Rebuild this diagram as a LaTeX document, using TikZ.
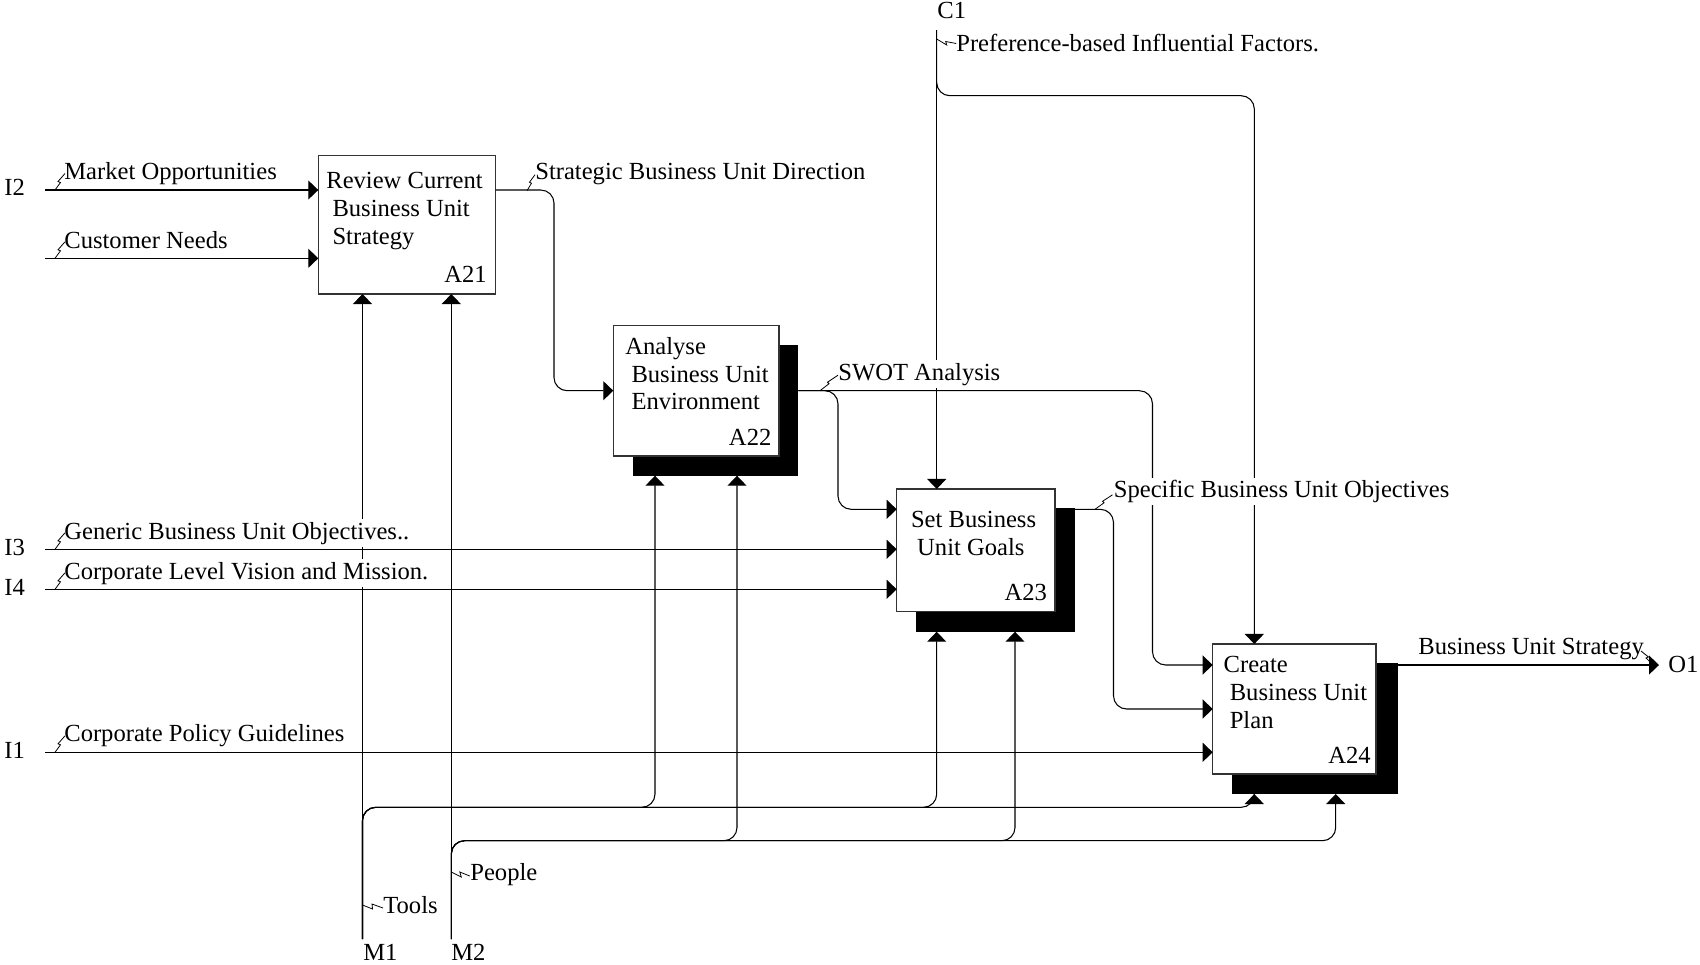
\documentclass[tikz,border=0pt]{standalone}
\usepackage{fontspec}
\setmainfont{Liberation Serif}
\usetikzlibrary{arrows.meta,fit}

\begin{document}
\begin{tikzpicture}[x=0.02cm,y=-0.02cm,
  every node/.style={font=\fontsize{14pt}{15.8pt}\selectfont},
  wire/.style={line width=0.6pt, draw=black},
  arr/.style={wire, -{Triangle[length=5.7pt,width=10.8pt]}},
  rc/.style={rounded corners=7.5pt},
  box/.style={draw=black!80, line width=0.8pt, fill=white, inner sep=0pt, outer sep=0pt},
  shade/.style={fill=black, draw=none, inner sep=0pt, outer sep=0pt},
  lbl/.style={fill=white, inner xsep=0pt, inner ysep=1.5pt, anchor=base west},
  port/.style={inner sep=0pt, anchor=base west},
  boxtext/.style={inner sep=0pt, anchor=base west},
  num/.style={inner sep=0pt, anchor=base east},
  squig/.style={line width=0.45pt}
]
\useasboundingbox (0,0) rectangle (1700,964);

% ---- activity boxes (shadows first) ----
\node[shade, fit={(633.3,345) (798.3,475.7)}]   (A22s) {};
\node[shade, fit={(916,508.3) (1075,631.7)}]    (A23s) {};
\node[shade, fit={(1232.3,663.3) (1397.7,794)}] (A24s) {};
\node[box, fit={(318.3,155.7) (495.7,294)}]  (A21) {};
\node[box, fit={(613.3,325.7) (779,456)}]    (A22) {};
\node[box, fit={(896.7,489) (1055,611.7)}]   (A23) {};
\node[box, fit={(1212.7,644) (1376,774)}]    (A24) {};

% ---- boundary ports and routing points ----
\coordinate (i2)  at (45,190);
\coordinate (i2b) at (45,258.3);
\coordinate (i3)  at (45,549.3);
\coordinate (i4)  at (45,589.3);
\coordinate (i1)  at (45,752.3);
\coordinate (c1)  at (936.7,30);
\coordinate (m1)  at (362.5,939);
\coordinate (m2)  at (451.3,939);
\coordinate (o1)  at (1659,665);
\coordinate (j1)  at (554,390.7);
\coordinate (j2)  at (838,509.3);
\coordinate (j3)  at (1152.5,665);
\coordinate (j4)  at (1113.5,709);
\coordinate (c1b) at (1254.3,95.7);
\coordinate (b1a) at (655,807.3);
\coordinate (b1b) at (936.7,807.3);
\coordinate (b1c) at (1254.3,807.3);
\coordinate (b2a) at (737,840.7);
\coordinate (b2b) at (1015,840.7);
\coordinate (b2c) at (1335.7,840.7);

% ---- inputs ----
\draw[arr] (i2)  -- (i2 -| A21.west);
\draw[arr] (i2b) -- (i2b -| A21.west);
\draw[arr] (i3)  -- (i3 -| A23.west);
\draw[arr] (i4)  -- (i4 -| A23.west);
\draw[arr] (i1)  -- (i1 -| A24.west);

% ---- controls ----
\draw[arr] (c1) -- (c1 |- A23.north);
\draw[arr, rc] (c1) |- (c1b) -- (c1b |- A24.north);

% ---- mechanisms ----
\draw[arr] (m1) -- (m1 |- A21.south);
\draw[arr] (m2) -- (m2 |- A21.south);
\draw[arr, rc] (m1) |- (b1a) -- (b1a |- A22s.south);
\draw[arr, rc] (m1) |- (b1b) -- (b1b |- A23s.south);
\draw[arr, rc] (m1) |- (b1c) -- (b1c |- A24s.south);
\draw[arr, rc] (m2) |- (b2a) -- (b2a |- A22s.south);
\draw[arr, rc] (m2) |- (b2b) -- (b2b |- A23s.south);
\draw[arr, rc] (m2) |- (b2c) -- (b2c |- A24s.south);

% ---- outputs between activities ----
\draw[arr, rc] (A21.east |- i2) -| (j1) -- (A22.west |- j1);
\draw[arr, rc] (A22s.east |- j1) -| (j2) -- (A23.west |- j2);
\draw[arr, rc] (A22s.east |- j1) -| (j3) -- (A24.west |- j3);
\draw[arr, rc] (A23s.east |- j2) -| (j4) -- (A24.west |- j4);
\draw[arr] (A24s.east |- o1) -- (o1);

% ---- box texts ----
\node[boxtext] (A21t) at (326,188.7) {\begin{tabular}[t]{@{}l@{}}Review Current\\\ Business Unit\\\ Strategy\end{tabular}};
\node[boxtext] (A22t) at (625,354.3) {\begin{tabular}[t]{@{}l@{}}Analyse\\\ Business Unit\\\ Environment\end{tabular}};
\node[boxtext] (A23t) at (910.7,527.7) {\begin{tabular}[t]{@{}l@{}}Set Business\\\ Unit Goals\end{tabular}};
\node[boxtext] (A24t) at (1223.3,672.7) {\begin{tabular}[t]{@{}l@{}}Create\\\ Business Unit\\\ Plan\end{tabular}};
\node[num] (A21n) at (487,282.7) {A21};
\node[num] (A22n) at (771.7,445) {A22};
\node[num] (A23n) at (1047.3,600.3) {A23};
\node[num] (A24n) at (1371,763.3) {A24};

% ---- arrow labels ----
\node[lbl] (lMO) at (64,179)      {Market Opportunities};
\node[lbl] (lCN) at (64,248)      {Customer Needs};
\node[lbl] (lGB) at (64,539)      {Generic Business Unit Objectives..};
\node[lbl] (lCL) at (64,579)      {Corporate Level Vision and Mission.};
\node[lbl] (lCP) at (64,741.5)    {Corporate Policy Guidelines};
\node[lbl] (lSD) at (535,179)     {Strategic Business Unit Direction};
\node[lbl] (lSW) at (838,380)     {SWOT Analysis};
\node[lbl] (lSO) at (1113.5,497.5){Specific Business Unit Objectives};
\node[lbl] (lBS) at (1418,654)    {Business Unit Strategy};
\node[lbl] (lPF) at (956,51)      {Preference-based Influential Factors.};
\node[lbl] (lTO) at (383,913.7)   {Tools};
\node[lbl] (lPE) at (470,880)     {People};

% ---- port labels ----
\node[port] (pI2) at (4,195.5)    {I2};
\node[port] (pI3) at (4,555)      {I3};
\node[port] (pI4) at (4,595)      {I4};
\node[port] (pI1) at (4,758)      {I1};
\node[port] (pC1) at (937,18)     {C1};
\node[port] (pM1) at (363,960)    {M1};
\node[port] (pM2) at (451,960)    {M2};
\node[port] (pO1) at (1668,672)   {O1};

% ---- label squiggles ----
\foreach \yy in {190,258.3,549.3,589.3,752.3}
  \draw[squig] (55,\yy) -- ++(5.5,-7.5) -- ++(-2.5,-1) -- ++(7,-8);
\draw[squig] (527,190.7) -- ++(4.5,-7.5) -- ++(-2,-1) -- ++(5.5,-7.5);
\draw[squig] (820,390.7) -- ++(9,-7) -- ++(-1.5,-1.5) -- ++(10.5,-7);
\draw[squig] (1095,509.3) -- ++(9,-6.5) -- ++(-1.5,-1.5) -- ++(10,-6.5);
\draw[squig] (1641,651) -- ++(7.5,6) -- ++(-2.5,1) -- ++(7.5,7);
\draw[squig] (936.7,39) -- ++(10,6) -- ++(-1,-3.5) -- ++(10.5,2);
\draw[squig] (362.5,905) -- ++(10,4) -- ++(-0.5,-5) -- ++(11,4);
\draw[squig] (451.3,872) -- ++(10,5) -- ++(-1.5,-5) -- ++(10,4);

\end{tikzpicture}
\end{document}
